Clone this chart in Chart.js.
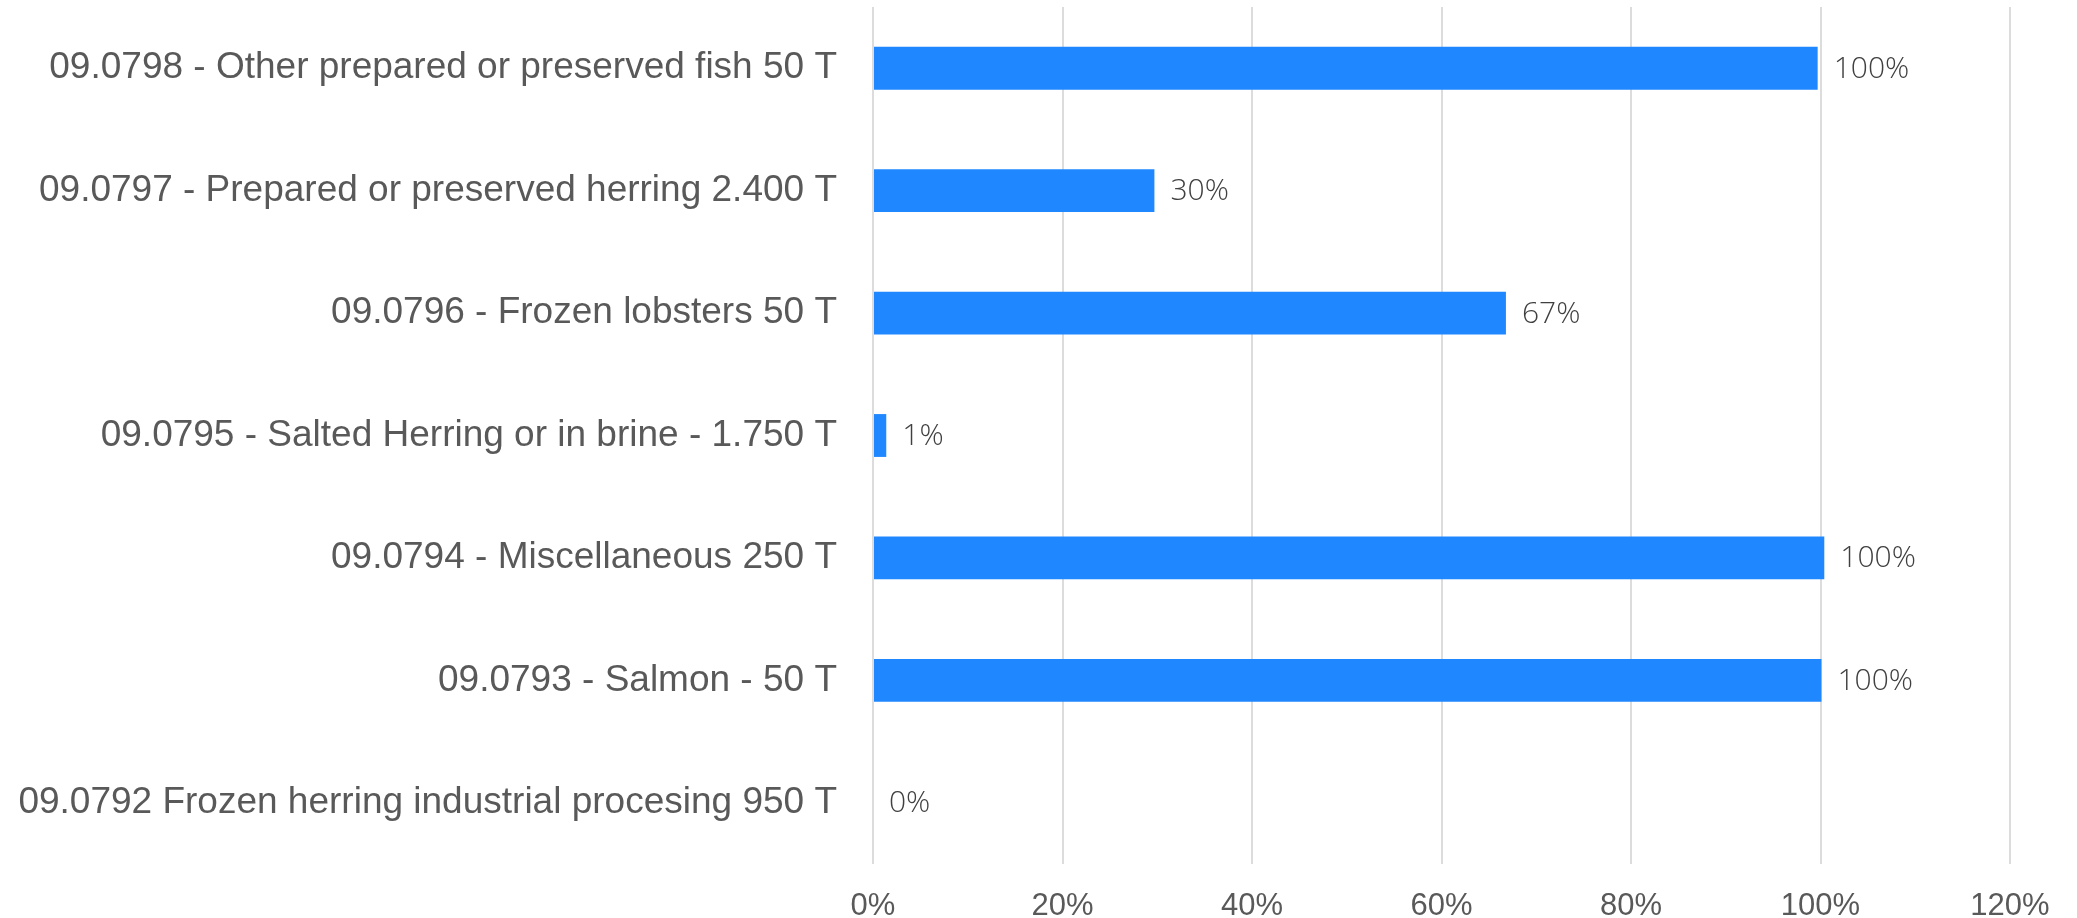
<!DOCTYPE html>
<html>
<head>
<meta charset="utf-8">
<script src="https://cdn.jsdelivr.net/npm/chart.js@4/dist/chart.umd.min.js"></script>
<style>
  html, body { margin: 0; padding: 0; background: #ffffff; }
  #wrap { width: 2077px; height: 918px; }
</style>
</head>
<body>
<div id="wrap"><canvas id="c" width="2077" height="918"></canvas></div>
<script>
const categories = [
  "09.0798 - Other prepared or preserved fish 50 T",
  "09.0797 - Prepared or preserved herring 2.400 T",
  "09.0796 - Frozen lobsters 50 T",
  "09.0795 - Salted Herring or in brine - 1.750 T",
  "09.0794 - Miscellaneous 250 T",
  "09.0793 - Salmon - 50 T",
  "09.0792 Frozen herring industrial procesing 950 T"
];
const utilisation = [99.7, 29.7, 66.8, 1.4, 100.4, 100.1, 0];
const xTicks = [0, 20, 40, 60, 80, 100, 120];

const valueLabels = {
  id: 'valueLabels',
  afterDatasetsDraw(chart) {
    const ctx = chart.ctx;
    const meta = chart.getDatasetMeta(0);
    ctx.save();
    ctx.font = "300 30px 'Open Sans', sans-serif";
    ctx.fillStyle = '#404040';
    ctx.textAlign = 'left';
    ctx.textBaseline = 'middle';
    meta.data.forEach((bar, i) => {
      const v = chart.data.datasets[0].data[i];
      ctx.fillText(Math.round(v) + '%', bar.x + 16, bar.y + 1);
    });
    ctx.restore();
  }
};

new Chart(document.getElementById('c'), {
  type: 'bar',
  data: {
    labels: categories,
    datasets: [{
      data: utilisation,
      backgroundColor: '#1f87ff',
      borderWidth: 0,
      categoryPercentage: 1,
      barPercentage: 0.35
    }]
  },
  options: {
    indexAxis: 'y',
    responsive: false,
    animation: false,
    devicePixelRatio: 1,
    layout: { padding: { top: 7, right: 67, left: 0, bottom: 0 } },
    plugins: { legend: { display: false }, tooltip: { enabled: false } },
    scales: {
      x: {
        min: 0, max: 120,
        afterBuildTicks(scale) { scale.ticks = xTicks.map(v => ({ value: v })); },
        afterFit(scale) {
          scale.height = 54;
          scale.paddingLeft = 0; scale.paddingRight = 0;
          scale.paddingTop = 0; scale.paddingBottom = 0;
        },
        grid: { color: '#dcdcdc', lineWidth: 2, drawTicks: false },
        border: { display: false },
        ticks: {
          padding: 24,
          color: '#595959',
          font: { family: "'Liberation Sans', Arial, sans-serif", size: 31 },
          callback: v => v + '%'
        }
      },
      y: {
        afterFit(scale) {
          scale.width = 873;
          scale.paddingTop = 0; scale.paddingBottom = 0;
          scale.paddingLeft = 0; scale.paddingRight = 0;
        },
        grid: { display: false, drawTicks: false },
        border: { display: false },
        ticks: {
          padding: 36,
          color: '#595959',
          font: { family: "'Liberation Sans', Arial, sans-serif", size: 37 }
        }
      }
    }
  },
  plugins: [valueLabels]
});
</script>
</body>
</html>
